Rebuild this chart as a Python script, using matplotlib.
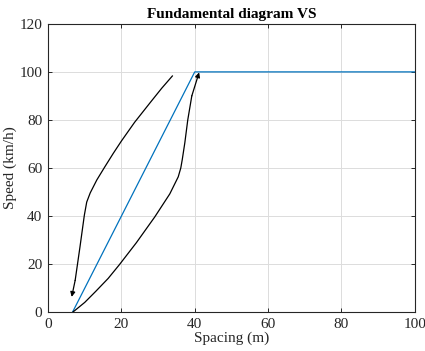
import matplotlib
matplotlib.use("Agg")
import matplotlib.pyplot as plt

plt.rcParams['font.family'] = ['Liberation Serif', 'DejaVu Serif']

# Equilibrium fundamental diagram (speed vs spacing)
fd_spacing = [6.7, 40.0, 100.0]
fd_speed = [0.0, 100.0, 100.0]

# Acceleration branch (lower loop)
acc_spacing = [6.8, 10.0, 13.0, 16.4, 19.5, 24.1, 29.1, 33.2, 35.5, 36.2, 36.6,
               37.3, 38.1, 39.2, 41.2]
acc_speed = [0.0, 4.0, 8.6, 14.0, 19.8, 28.9, 39.6, 49.2, 56.3, 60.0, 63.5,
             70.5, 80.0, 90.0, 99.8]

# Deceleration branch (upper loop)
dec_spacing = [33.9, 31.0, 27.9, 23.6, 20.0, 17.8, 15.5, 13.3, 11.5, 10.55,
               9.9, 8.7, 7.4, 6.45]
dec_speed = [98.3, 93.2, 87.3, 79.0, 71.2, 66.1, 60.5, 55.0, 49.6, 45.8,
             40.3, 27.0, 13.2, 6.3]

fig = plt.figure(figsize=(4.25, 3.51), dpi=100)
ax = fig.add_axes([0.113, 0.111, 0.863, 0.821])

ax.plot(fd_spacing, fd_speed, color='#0072BD', lw=0.9, zorder=3)

for xs, ys in ((acc_spacing, acc_speed), (dec_spacing, dec_speed)):
    ax.plot(xs[:-1], ys[:-1], color='black', lw=0.9, zorder=3,
            solid_joinstyle='round')
    ax.annotate('', xy=(xs[-1], ys[-1]), xytext=(xs[-2], ys[-2]),
                arrowprops=dict(arrowstyle='-|>', color='black', lw=0.9,
                                mutation_scale=7, shrinkA=0, shrinkB=0),
                zorder=4)

ax.set_xlim(0, 100)
ax.set_ylim(0, 120)
ax.set_xticks([0, 20, 40, 60, 80, 100])
ax.set_yticks([0, 20, 40, 60, 80, 100, 120])
ax.grid(True, color='#dcdcdc', lw=0.7)
ax.set_axisbelow(True)
ax.tick_params(direction='in', top=True, right=True, labelsize=11, length=3,
               width=0.7, colors='#262626', pad=4)
for s in ax.spines.values():
    s.set_linewidth(0.8)
    s.set_color('#262626')

ax.set_xlabel('Spacing (m)', fontsize=11, color='#262626', labelpad=1)
ax.set_ylabel('Speed (km/h)', fontsize=11, color='#262626', labelpad=2)
ax.set_title('Fundamental diagram VS', fontsize=11, fontweight='bold', pad=4)

fig.savefig('out.png', dpi=100)
